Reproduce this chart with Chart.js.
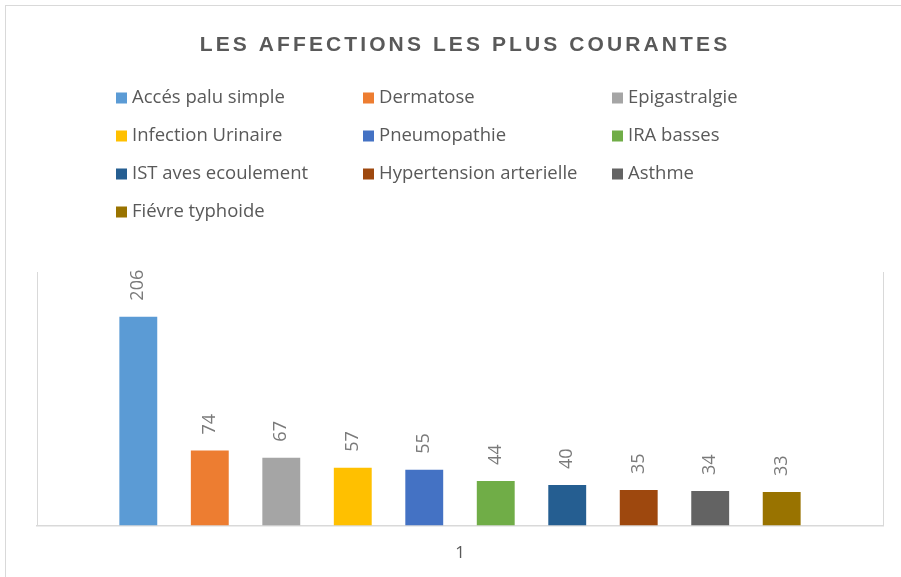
<!DOCTYPE html>
<html>
<head>
<meta charset="utf-8">
<script src="https://cdn.jsdelivr.net/npm/chart.js@4.4.0/dist/chart.umd.min.js"></script>
<style>
html, body { margin: 0; padding: 0; background: #fff; }
</style>
</head>
<body>
<canvas id="affections" width="901" height="577"></canvas>
<script>
var categories = ["1"];
var diseases = ["Accés palu simple", "Dermatose", "Epigastralgie", "Infection Urinaire", "Pneumopathie",
                "IRA basses", "IST aves ecoulement", "Hypertension arterielle", "Asthme", "Fiévre typhoide"];
var counts = [206, 74, 67, 57, 55, 44, 40, 35, 34, 33];
var colors = ["#5B9BD5", "#ED7D31", "#A5A5A5", "#FFC000", "#4472C4",
              "#70AD47", "#255E91", "#9E480E", "#636363", "#997300"];
var chartTitle = "LES AFFECTIONS LES PLUS COURANTES";

var FONT = "'Open Sans', sans-serif";
var TITLE_FONT = "'Liberation Sans', Arial, sans-serif";
var GREY = "#595959";

var datasets = diseases.map(function (name, i) {
    return { label: name, data: [counts[i]], backgroundColor: colors[i] };
});

// title, frame, legend grid and rotated value labels
var excelLook = {
    id: 'excelLook',
    beforeDraw: function (chart) {
        var ctx = chart.ctx;
        ctx.save();
        ctx.fillStyle = "#fff";
        ctx.fillRect(0, 0, chart.width, chart.height);
        ctx.strokeStyle = "#d9d9d9";
        ctx.lineWidth = 1;
        ctx.strokeRect(5.5, 5.5, 960, 620);

        ctx.fillStyle = GREY;
        ctx.font = "bold 21px " + TITLE_FONT;
        ctx.letterSpacing = "3.1px";
        ctx.textAlign = "center";
        ctx.textBaseline = "middle";
        ctx.fillText(chartTitle, 465, 45);
        ctx.restore();
    },
    afterDraw: function (chart) {
        var ctx = chart.ctx;
        ctx.save();

        // legend, three columns
        var colX = [116, 363, 612];
        var rowY = [98, 136, 174, 212];
        ctx.font = "18.5px " + FONT;
        ctx.textAlign = "left";
        ctx.textBaseline = "middle";
        chart.data.datasets.forEach(function (ds, i) {
            var x = colX[i % 3], y = rowY[Math.floor(i / 3)];
            ctx.fillStyle = ds.backgroundColor;
            ctx.fillRect(x, y - 5.5, 11, 11);
            ctx.fillStyle = GREY;
            ctx.fillText(ds.label, x + 16, y);
        });

        // value labels, rotated
        ctx.font = "18px " + FONT;
        ctx.fillStyle = "#7a7a7a";
        chart.data.datasets.forEach(function (ds, i) {
            var bar = chart.getDatasetMeta(i).data[0];
            ctx.save();
            ctx.translate(bar.x, bar.y - 16);
            ctx.rotate(-Math.PI / 2);
            ctx.textAlign = "left";
            ctx.textBaseline = "middle";
            ctx.fillText(String(ds.data[0]), 0, 0);
            ctx.restore();
        });
        ctx.restore();
    }
};

var ctx1 = document.getElementById("affections").getContext('2d');

var myChart1 = new Chart(ctx1,
{
    type: 'bar',
    data:
    {
        labels: categories,
        datasets: datasets
    },
    options:
    {
        responsive: false,
        animation: false,
        layout:
        {
            padding: { top: 272, left: 37, right: 18, bottom: -3 }
        },
        datasets:
        {
            bar: { categoryPercentage: 0.845, barPercentage: 0.53 }
        },
        plugins:
        {
            legend: { display: false },
            title: { display: false },
            tooltip: { enabled: false }
        },
        scales:
        {
            x:
            {
                grid: { display: true, offset: true, color: "#d9d9d9", drawTicks: false },
                border: { color: "#d9d9d9", width: 1.5 },
                ticks: { color: GREY, font: { family: FONT, size: 17 }, padding: 17 }
            },
            y:
            {
                display: false,
                min: 0,
                max: 250
            }
        }
    },
    plugins: [excelLook]
});
</script>
</body>
</html>
